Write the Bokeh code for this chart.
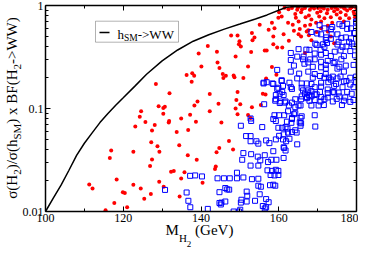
from bokeh.plotting import figure
from bokeh.models import (FixedTicker, LinearAxis, Label, BoxAnnotation,
                          CustomJSTickFormatter, Div)
from bokeh.layouts import column, row
from bokeh.embed import file_html
from bokeh.resources import INLINE

# ---------------- data ----------------
x_ticks = [100, 120, 140, 160, 180]
x_minor = [110, 130, 150, 170]
y_ticks = [0.01, 0.1, 1]
y_minor = [0.02, 0.03, 0.04, 0.05, 0.06, 0.07, 0.08, 0.09,
           0.2, 0.3, 0.4, 0.5, 0.6, 0.7, 0.8, 0.9]

sm_mh = [100, 102, 104, 106, 108, 110, 112, 114, 116, 118, 120, 123, 126,
         130, 134, 138, 142, 146, 150, 154, 157, 160, 162, 164, 170, 175, 180]
sm_bf = [0.010, 0.0135, 0.018, 0.025, 0.035, 0.046, 0.058, 0.073, 0.089,
         0.107, 0.127, 0.165, 0.215, 0.29, 0.37, 0.45, 0.52, 0.59, 0.66,
         0.74, 0.81, 0.90, 0.96, 0.98, 0.975, 0.97, 0.965]

red_mh = [
    160.1, 159.9, 160.75, 155.1, 158.25, 157.4, 158.9, 147.75, 149.4, 153.1,
    161.25, 158.6, 153.75, 153.25, 149.9, 149.75, 150.25, 141.75, 158.6, 159.6,
    160.9, 144.1, 152.9, 156.4, 156.9, 139.4, 148.9, 136.3, 137.75, 138.25,
    137.6, 128.4, 131.9, 139.1, 129.1, 130.3, 130.7, 124.6, 124.25, 125.7,
    128.1, 130.3, 131.8, 131.7, 134.9, 137.2, 138.3, 138.7, 123.1, 127.4,
    133.75, 136.7, 127.2, 128.8, 129.3, 134.4, 116.9, 116.55, 122.6, 127.4,
    126.9, 136.6, 138.9, 132.3, 133.0, 135.75, 134.9, 118.3, 111.25, 112.1,
    122.6, 124.5, 129.25, 130.4, 119.9, 120.4, 127.1, 125.4, 134.5, 117.7,
    121.0, 115.45, 145.25, 147.2, 148.25, 144.7, 144.0, 143.8, 143.6, 140.4,
    144.25, 140.1, 144.75, 145.6, 146.4, 145.75, 148.4, 148.6, 150.9, 152.1,
    158.25, 159.4, 156.75, 142.25, 149.4, 155.9, 156.6, 144.5, 149.1, 150.1,
    155.4, 153.1, 148.9, 142.25, 149.4, 152.1, 152.75,
    166.75, 168.0, 169.1, 170.1, 170.75, 171.6, 172.6, 173.6, 174.25, 175.1,
    175.9, 176.75, 177.6, 178.4, 179.25, 179.9, 163.4, 164.75, 165.75, 169.9,
    172.4, 174.9, 177.25, 179.4, 164.25, 167.75, 170.4, 173.4, 171.75, 175.75,
    164.4, 166.9, 168.4, 170.9, 169.6, 173.75, 165.1, 162.4, 163.6, 166.75,
    168.1, 172.6, 170.9, 165.4, 167.6, 163.9, 169.75, 172.6, 165.1, 173.4,
    174.25, 166.75, 178.1, 179.6, 176.75, 168.4, 165.75, 167.2, 167.75, 162.6,
    161.5, 162.5, 165.0, 168.5, 171.0, 174.5, 177.0, 178.8, 176.0, 166.0,
]
red_sig = [
    0.86, 0.76, 0.78, 0.65, 0.68, 0.58, 0.60, 0.51, 0.51, 0.54,
    0.525, 0.50, 0.49, 0.46, 0.45, 0.42, 0.40, 0.405, 0.42, 0.39,
    0.39, 0.356, 0.354, 0.366, 0.366, 0.342, 0.32, 0.211, 0.220, 0.208,
    0.182, 0.173, 0.141, 0.117, 0.105, 0.101, 0.104, 0.094, 0.083, 0.074,
    0.069, 0.089, 0.0757, 0.073, 0.080, 0.087, 0.107, 0.0745, 0.067, 0.061,
    0.059, 0.062, 0.047, 0.043, 0.038, 0.044, 0.039, 0.0331, 0.038, 0.032,
    0.0276, 0.0352, 0.0318, 0.0243, 0.0247, 0.0241, 0.0209, 0.0204, 0.0183, 0.0167,
    0.0182, 0.0167, 0.0194, 0.0174, 0.0154, 0.0151, 0.0148, 0.0133, 0.0140, 0.0121,
    0.0110, 0.0103, 0.073, 0.0484, 0.0400, 0.0413, 0.0375, 0.0273, 0.0259, 0.0190,
    0.280, 0.256, 0.247, 0.216, 0.208, 0.198, 0.209, 0.201, 0.198, 0.256,
    0.253, 0.213, 0.196, 0.138, 0.145, 0.139, 0.137, 0.111, 0.121, 0.110,
    0.108, 0.103, 0.100, 0.094, 0.088, 0.0865, 0.081,
    0.946, 0.907, 0.934, 0.946, 0.88, 0.934, 0.907, 0.946, 0.88, 0.92,
    0.86, 0.946, 0.896, 0.934, 0.87, 0.946, 0.946, 0.907, 0.86, 0.85,
    0.84, 0.82, 0.81, 0.825, 0.825, 0.80, 0.78, 0.77, 0.75, 0.75,
    0.76, 0.77, 0.73, 0.70, 0.68, 0.68, 0.70, 0.68, 0.65, 0.635,
    0.65, 0.635, 0.60, 0.59, 0.576, 0.57, 0.553, 0.56, 0.525, 0.50,
    0.43, 0.346, 0.75, 0.77, 0.70, 0.46, 0.50, 0.56, 0.515, 0.454,
    0.95, 0.92, 0.96, 0.96, 0.96, 0.96, 0.93, 0.96, 0.97, 0.92,
]

blue_mh = [
    170.5, 168.4, 171.75, 173.75, 176.4, 177.6, 179.4, 179.9, 173.6, 175.1,
    177.25, 170.9, 172.1, 173.4, 175.4, 178.1, 178.9, 179.4, 169.4, 169.75,
    172.4, 176.4, 177.4, 165.1, 167.9, 170.75, 171.75, 174.4, 175.9, 178.4,
    163.1, 164.75, 166.4, 169.25, 170.9, 172.1, 173.4, 176.75, 179.6,
    179.9, 177.6, 175.6, 173.4, 178.6, 179.6, 169.9, 172.25, 176.1, 178.6,
    171.4, 175.1, 167.1, 163.1, 166.25, 168.1,
    166.6, 163.9, 168.75, 170.9, 172.1, 174.1, 175.6, 177.25, 179.25, 165.25,
    163.1, 167.6, 169.25, 170.6, 172.1, 172.9, 173.9, 175.9, 178.4, 179.9,
    156.1, 158.4, 160.75, 162.75, 164.75, 165.9, 168.4, 170.9, 172.75, 174.75,
    176.75, 178.4, 179.9,
    159.6, 160.9, 163.4, 166.25, 167.4, 168.4, 169.25, 170.6, 172.6, 173.9,
    175.4, 177.6, 178.75,
    159.25, 161.75, 164.25, 165.9, 167.25, 167.9, 169.25, 170.75, 172.6, 173.9,
    174.9, 176.75, 179.25,
    156.25, 160.25, 162.6, 164.25, 165.6, 168.4, 170.25, 171.6, 176.25,
    158.9, 161.4, 163.9, 165.6, 169.25, 159.25, 162.1, 163.4, 150.25, 155.75,
    159.9, 161.75, 165.6, 169.4, 152.9,
    167.6, 169.25, 170.9, 172.6, 174.4, 176.1, 172.1, 175.1, 176.75, 171.75,
    173.4, 175.1, 177.4, 179.25, 168.75, 167.25, 163.1, 165.9, 167.6, 169.25,
    170.9, 172.6, 174.25, 176.4, 166.75, 167.75, 167.25, 168.4, 169.75, 170.9,
    174.25, 175.6, 177.1, 178.4, 165.75, 163.4, 165.1, 171.75, 162.4, 164.25,
    165.9, 163.4,
    159.6, 156.1, 156.9, 158.6, 159.9, 160.75, 161.1, 159.25, 160.25, 161.25,
    159.1, 160.4, 161.6, 152.75, 160.1, 158.6,
    160.9, 161.25, 160.1, 159.25, 156.75, 157.6, 154.25, 154.75, 152.75, 151.6,
    161.1, 161.25, 158.6, 156.4, 154.6, 155.25, 157.25, 150.9, 150.6, 152.75,
    154.75, 158.1, 159.4, 161.25, 157.1, 158.25, 159.25, 159.9, 157.9, 158.9,
    159.9, 149.25, 150.9, 144.25, 145.9, 147.4, 149.25, 140.25, 153.1, 154.75,
    154.75, 155.4, 157.75, 158.6, 159.1, 146.25, 146.75, 147.25, 144.75, 151.75,
    155.1, 151.9, 150.4, 150.25, 151.75, 153.9, 156.75, 157.4, 145.25, 146.25,
    144.75, 155.9, 156.4, 156.75, 150.1, 149.75, 148.4, 141.75, 145.1,
    163.25, 165.4, 165.75, 162.25, 163.4, 164.25, 164.6, 162.4, 162.75, 161.9,
    164.75, 161.75, 161.4,
    137.2, 138.5, 130.75, 136.3, 136.75, 137.25, 152.9, 152.75,
]
blue_sig = [
    0.644, 0.553, 0.60, 0.618, 0.635, 0.593, 0.54, 0.68, 0.525, 0.525,
    0.49, 0.525, 0.463, 0.475, 0.444, 0.444, 0.426, 0.40, 0.426, 0.414,
    0.432, 0.397, 0.40, 0.377, 0.371, 0.371, 0.397, 0.356, 0.366, 0.361,
    0.346, 0.319, 0.319, 0.342, 0.333, 0.346, 0.323, 0.323, 0.328,
    0.70, 0.665, 0.658, 0.589, 0.60, 0.542, 0.535, 0.49, 0.485, 0.48,
    0.42, 0.418, 0.373, 0.296, 0.30, 0.30,
    0.272, 0.261, 0.254, 0.251, 0.265, 0.276, 0.254, 0.261, 0.265, 0.218,
    0.228, 0.228, 0.216, 0.207, 0.216, 0.199, 0.204, 0.204, 0.199, 0.204,
    0.175, 0.175, 0.188, 0.178, 0.196, 0.175, 0.173, 0.178, 0.180, 0.173,
    0.183, 0.171, 0.180,
    0.155, 0.145, 0.155, 0.150, 0.143, 0.147, 0.137, 0.145, 0.141, 0.145,
    0.143, 0.145, 0.139,
    0.123, 0.117, 0.123, 0.131, 0.126, 0.119, 0.121, 0.117, 0.128, 0.117,
    0.124, 0.119, 0.121,
    0.110, 0.113, 0.107, 0.103, 0.107, 0.107, 0.107, 0.108, 0.108,
    0.086, 0.086, 0.088, 0.081, 0.086, 0.0757, 0.0745, 0.081, 0.068, 0.066,
    0.065, 0.066, 0.068, 0.0668, 0.0757,
    0.28, 0.30, 0.284, 0.29, 0.284, 0.30, 0.244, 0.244, 0.228, 0.199,
    0.191, 0.196, 0.185, 0.161, 0.199, 0.175, 0.161, 0.159, 0.150, 0.161,
    0.163, 0.153, 0.166, 0.161, 0.139, 0.135, 0.129, 0.131, 0.137, 0.129,
    0.143, 0.131, 0.128, 0.116, 0.123, 0.114, 0.107, 0.123, 0.094, 0.090,
    0.084, 0.079,
    0.237, 0.178, 0.180, 0.173, 0.159, 0.185, 0.166, 0.135, 0.139, 0.135,
    0.119, 0.117, 0.114, 0.080, 0.086, 0.079,
    0.065, 0.0561, 0.0543, 0.0501, 0.049, 0.0461, 0.0481, 0.0456, 0.0481, 0.054,
    0.0501, 0.0420, 0.0385, 0.0352, 0.0341, 0.0314, 0.0302, 0.0369, 0.0318, 0.0279,
    0.0279, 0.0318, 0.0318, 0.0331, 0.0251, 0.0248, 0.0254, 0.0248, 0.0226, 0.0224,
    0.0226, 0.0238, 0.0214, 0.0210, 0.0210, 0.0210, 0.0210, 0.0219, 0.0206, 0.0208,
    0.0178, 0.0174, 0.0180, 0.0182, 0.0178, 0.0169, 0.0164, 0.0163, 0.0154, 0.0156,
    0.0147, 0.0142, 0.0130, 0.0122, 0.0125, 0.0127, 0.0132, 0.0123, 0.0122, 0.0125,
    0.0121, 0.0113, 0.0107, 0.0110, 0.0104, 0.0100, 0.0100, 0.0106, 0.0117,
    0.0726, 0.0734, 0.0718, 0.0637, 0.0590, 0.0615, 0.0584, 0.0584, 0.0508, 0.0481,
    0.0449, 0.0391, 0.0413,
    0.0222, 0.0224, 0.0162, 0.0153, 0.0127, 0.0110, 0.0360, 0.054,
]

# ---------------- figure ----------------
SERIF = "Liberation Serif"

p = figure(width=339, height=230, x_range=(100, 180), y_range=(0.01, 1),
           y_axis_type="log", output_backend="svg", toolbar_location=None,
           min_border_left=24, min_border_right=2, min_border_top=5,
           min_border_bottom=19, title=None)
p.grid.visible = False
p.outline_line_color = None
p.background_fill_color = "white"
p.border_fill_color = None

fmt = CustomJSTickFormatter(code="return String(tick);")


def style_axis(ax, show_labels):
    ax.axis_line_color = "black"
    ax.axis_line_width = 1.5
    ax.major_tick_in = 5
    ax.major_tick_out = 0
    ax.minor_tick_in = 3
    ax.minor_tick_out = 0
    ax.major_tick_line_color = "black"
    ax.minor_tick_line_color = "black"
    ax.formatter = fmt
    if show_labels:
        ax.major_label_text_font = SERIF
        ax.major_label_text_font_size = "12px"
        ax.major_label_text_color = "black"
        ax.major_label_standoff = 2
    else:
        ax.major_label_text_font_size = "0px"
        ax.major_label_text_color = None
        ax.major_label_standoff = 0


xt = FixedTicker(ticks=x_ticks, minor_ticks=x_minor)
yt = FixedTicker(ticks=y_ticks, minor_ticks=y_minor)

p.xaxis[0].ticker = xt
p.yaxis[0].ticker = yt
style_axis(p.xaxis[0], True)
style_axis(p.yaxis[0], True)

top_ax = LinearAxis(ticker=xt)
right_ax = LinearAxis(ticker=yt)
style_axis(top_ax, False)
style_axis(right_ax, False)
p.add_layout(top_ax, "above")
p.add_layout(right_ax, "right")

# ---------------- marks ----------------
p.scatter(red_mh, red_sig, marker="circle", size=4, fill_color="#ff0000",
          line_color=None)
p.scatter(blue_mh, blue_sig, marker="square", size=5, fill_color=None,
          line_color="#0000ff", line_width=1)
p.line(sm_mh, sm_bf, line_color="black", line_width=1.5)

# ---------------- legend (manual, for the subscript) ----------------
p.add_layout(BoxAnnotation(left=50, right=133, top=190.3, bottom=169.3,
                           left_units="screen", right_units="screen",
                           top_units="screen", bottom_units="screen",
                           fill_color="white", fill_alpha=1,
                           line_color="black", line_width=1))
p.add_layout(BoxAnnotation(left=54, right=64, top=179.8, bottom=178.3,
                           left_units="screen", right_units="screen",
                           top_units="screen", bottom_units="screen",
                           fill_color="black", fill_alpha=1, line_color=None))


def lab(text, x, y, size):
    p.add_layout(Label(x=x, y=y, x_units="screen", y_units="screen",
                       text=text, text_font=SERIF, text_font_size=size,
                       text_color="black", text_align="left",
                       text_baseline="alphabetic"))


lab("h", 72, 176.7, "13px")
lab("SM", 78.5, 173.7, "9.5px")
lab("->WW", 92.2, 176.7, "13px")

# ---------------- axis titles (HTML text, for real subscripts) ----------------
FONT_CSS = "font-family:'Liberation Serif';color:black;"
SUB11 = "font-size:11px;position:relative;top:3.5px;"

y_html = (
    '<div style="position:relative;width:19px;height:230px;">'
    '<div style="position:absolute;left:5.4px;top:211px;width:206px;height:15px;'
    'line-height:15px;font-size:15px;' + FONT_CSS +
    'text-align:center;white-space:nowrap;transform-origin:0 0;'
    'transform:rotate(-90deg);">'
    'σ(H<span style="' + SUB11 + '">2</span>)/σ(h<span style="' + SUB11 +
    '">SM</span>) x BF(H<span style="' + SUB11 + '">2</span>-&gt;WW)'
    '</div></div>'
)
x_html = (
    '<div style="position:relative;width:358px;height:19px;">'
    '<div style="position:absolute;left:43px;top:-6.6px;width:313px;height:15px;'
    'line-height:15px;font-size:15px;' + FONT_CSS +
    'text-align:center;white-space:nowrap;">'
    'M<span style="font-size:11px;position:relative;top:6.8px;">H'
    '<span style="font-size:9px;position:relative;top:4.5px;">2</span></span>'
    ' (GeV)</div></div>'
)

ydiv = Div(text=y_html, width=19, height=230, margin=0,
           styles={"overflow": "visible"})
xdiv = Div(text=x_html, width=358, height=19, margin=0,
           styles={"overflow": "visible"})

layout = column(row(ydiv, p), xdiv)

open("out.html", "w").write(file_html(layout, INLINE))
